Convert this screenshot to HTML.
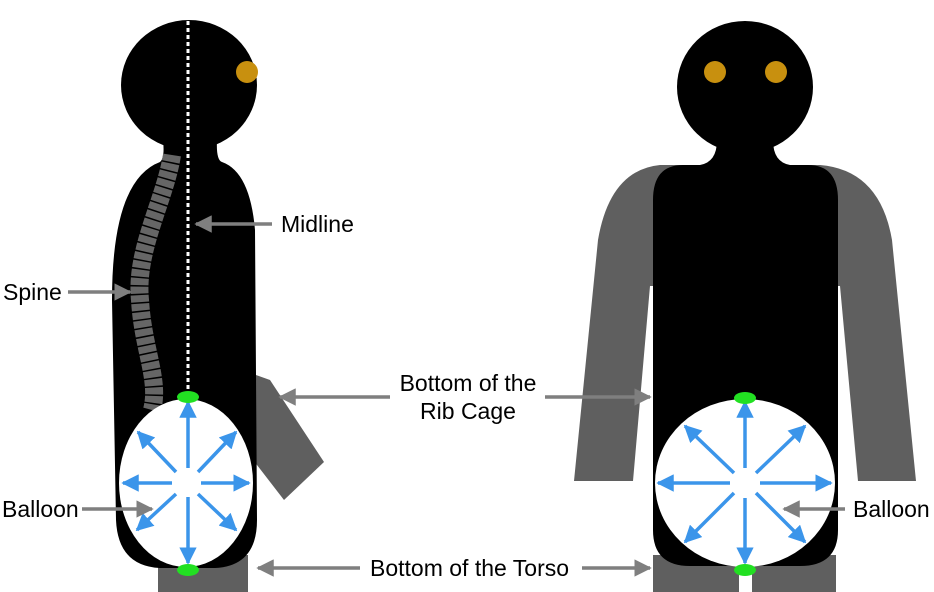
<!DOCTYPE html>
<html><head><meta charset="utf-8"><style>
html,body{margin:0;padding:0;background:#fff;}
svg{display:block;}
text{font-family:"Liberation Sans",Arial,sans-serif;font-size:23px;fill:#000;}
</style></head><body>
<svg width="934" height="592" viewBox="0 0 934 592" xmlns="http://www.w3.org/2000/svg">
<defs>
<marker id="ga" markerWidth="5" markerHeight="5" refX="4.5" refY="2.5" orient="auto" markerUnits="strokeWidth">
<path d="M0,0 L5,2.5 L0,5 Z" fill="#7f7f7f"/></marker>
<marker id="ba" markerWidth="5" markerHeight="5" refX="4.5" refY="2.5" orient="auto" markerUnits="strokeWidth">
<path d="M0,0 L5,2.5 L0,5 Z" fill="#3b95ea"/></marker>
</defs>
<rect width="934" height="592" fill="#fff"/>

<!-- LEFT FIGURE -->
<polygon points="256,375 270,380 324,462 284,500 250,456" fill="#5f5f5f"/>
<rect x="158" y="555" width="90" height="37" fill="#5f5f5f"/>
<ellipse cx="189" cy="85" rx="68" ry="65" fill="#000"/>
<path d="M163,140 L217,140 Q216,160 222,162 Q250,172 255,230 L257,520 Q257,566 215,568 L160,568 Q118,566 116,520 L112,300 Q112,180 160,162 Q165,158 163,140 Z" fill="#000"/>
<path d="M172,155 C165,200 135,250 140,300 C143,350 160,380 152,410" fill="none" stroke="#666" stroke-width="18" stroke-dasharray="7,1.5"/>
<circle cx="247" cy="72" r="11" fill="#c8900f"/>
<line x1="188" y1="0" x2="188" y2="396" stroke="#fff" stroke-width="3" stroke-dasharray="4,3"/>
<ellipse cx="186" cy="483" rx="67" ry="84" fill="#fff"/>
<g stroke="#3b95ea" stroke-width="3.5" marker-end="url(#ba)">
<line x1="172" y1="483" x2="123" y2="483"/>
<line x1="201" y1="483" x2="249" y2="483"/>
<line x1="188" y1="468" x2="188" y2="402"/>
<line x1="188" y1="497" x2="188" y2="563"/>
<line x1="176" y1="472" x2="138" y2="432"/>
<line x1="198" y1="472" x2="236" y2="432"/>
<line x1="176" y1="494" x2="137" y2="530"/>
<line x1="198" y1="494" x2="236" y2="530"/>
</g>
<ellipse cx="188" cy="397" rx="11" ry="6" fill="#22e022"/>
<ellipse cx="188" cy="570" rx="11" ry="6" fill="#22e022"/>

<!-- RIGHT FIGURE -->
<path d="M660,165 L820,165 Q880,170 892,240 L916,481 L858,481 L840,286 L650,286 L633,481 L574,481 L598,240 Q610,170 660,165 Z" fill="#5f5f5f"/>
<rect x="653" y="555" width="86" height="37" fill="#5f5f5f"/>
<rect x="752" y="555" width="84" height="37" fill="#5f5f5f"/>
<ellipse cx="745" cy="87" rx="68" ry="66" fill="#000"/>
<path d="M717,140 L773,140 Q773,162 790,165 L808,165 Q838,165 838,200 L838,530 Q838,566 800,566 L690,566 Q653,566 653,530 L653,200 Q653,165 683,165 L700,165 Q717,162 717,140 Z" fill="#000"/>
<circle cx="715" cy="72" r="11" fill="#c8900f"/>
<circle cx="776" cy="72" r="11" fill="#c8900f"/>
<ellipse cx="745" cy="483" rx="90" ry="84" fill="#fff"/>
<g stroke="#3b95ea" stroke-width="3.5" marker-end="url(#ba)">
<line x1="730" y1="483" x2="658" y2="483"/>
<line x1="760" y1="483" x2="831" y2="483"/>
<line x1="745" y1="468" x2="745" y2="402"/>
<line x1="745" y1="498" x2="745" y2="563"/>
<line x1="734" y1="473" x2="685" y2="426"/>
<line x1="756" y1="473" x2="805" y2="426"/>
<line x1="734" y1="493" x2="685" y2="542"/>
<line x1="756" y1="493" x2="805" y2="542"/>
</g>
<ellipse cx="745" cy="398" rx="11" ry="6" fill="#22e022"/>
<ellipse cx="745" cy="570" rx="11" ry="6" fill="#22e022"/>

<!-- LABELS & ARROWS -->
<g stroke="#7f7f7f" stroke-width="3.5" marker-end="url(#ga)">
<line x1="272" y1="224" x2="196" y2="224"/>
<line x1="68" y1="292" x2="130" y2="292"/>
<line x1="390" y1="397" x2="280" y2="397"/>
<line x1="545" y1="397" x2="650" y2="397"/>
<line x1="82" y1="509" x2="152" y2="509"/>
<line x1="845" y1="509" x2="784" y2="509"/>
<line x1="360" y1="568" x2="258" y2="568"/>
<line x1="582" y1="568" x2="650" y2="568"/>
</g>
<text x="281" y="232">Midline</text>
<text x="3" y="300">Spine</text>
<text x="468" y="391" text-anchor="middle">Bottom of the</text>
<text x="468" y="419" text-anchor="middle">Rib Cage</text>
<text x="2" y="517">Balloon</text>
<text x="853" y="517">Balloon</text>
<text x="370" y="576">Bottom of the Torso</text>
</svg>
</body></html>
